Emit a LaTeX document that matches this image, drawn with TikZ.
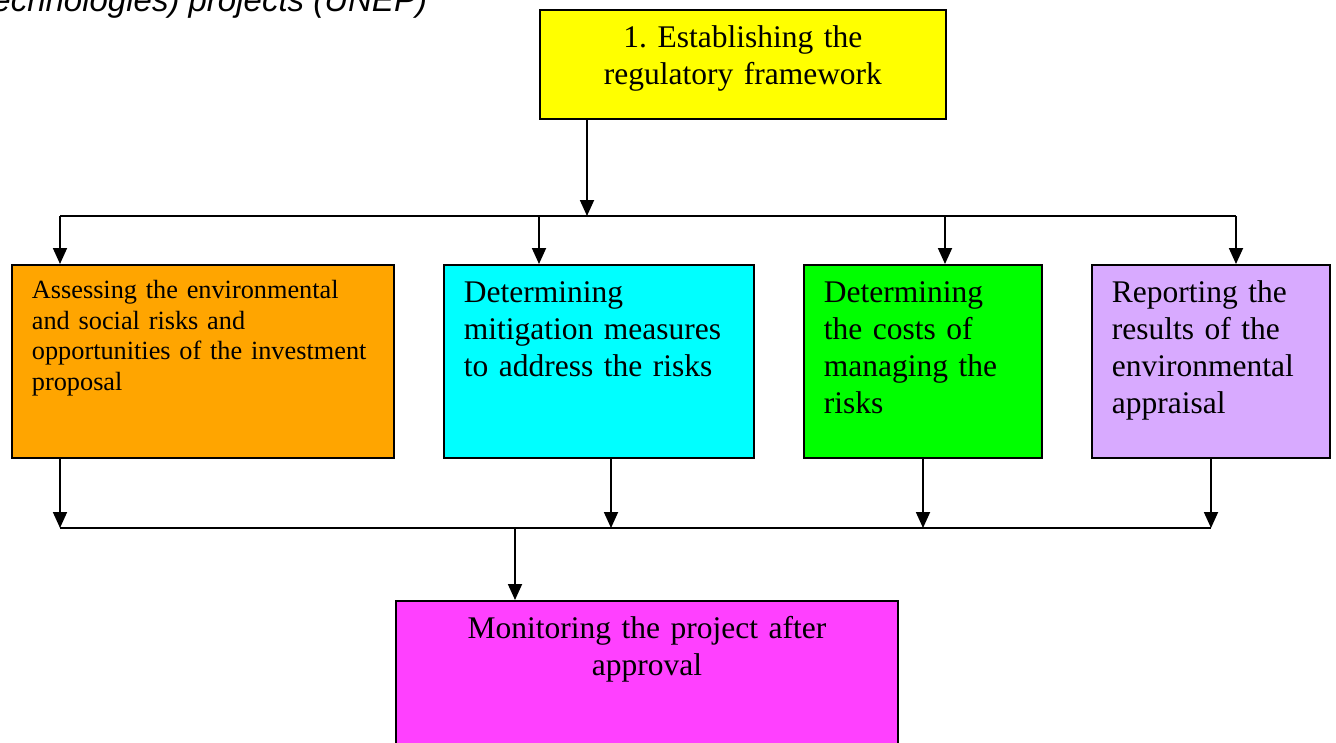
\documentclass[tikz,border=0pt]{standalone}
\usepackage{fontspec}
\setmainfont{Liberation Serif}
\newfontfamily\captionfont{Liberation Sans}
\usepackage{xcolor}
\usetikzlibrary{arrows.meta,positioning}
\definecolor{frameyellow}{RGB}{255,255,0}
\definecolor{assessorange}{RGB}{255,165,0}
\definecolor{mitigcyan}{RGB}{0,255,255}
\definecolor{costgreen}{RGB}{0,255,0}
\definecolor{reportlav}{RGB}{216,170,255}
\definecolor{monitmagenta}{RGB}{255,64,255}
\frenchspacing
\tikzset{
 stepbox/.style={draw, line width=1.8pt, anchor=north west, inner xsep=20pt, inner ysep=10pt,
  font=\fontsize{31.5}{37}\selectfont, text height=28pt},
 smallbox/.style={stepbox, font=\fontsize{26.3}{30.5}\selectfont, text height=24pt},
}
\begin{document}
\begin{tikzpicture}[x=1pt, y=-1pt, >={Triangle[length=16pt,width=14pt]}, line width=1.8pt]
 \useasboundingbox (0,0) rectangle (1336,742);
 % heading line cut by the page top
 \node[font=\captionfont\itshape\fontsize{33}{39}\selectfont, anchor=base east, inner sep=0pt] (source) at (428,11) {technologies) projects (UNEP)};
 % boxes at their places
 \node[stepbox, fill=frameyellow, text width=366pt, align=center, text depth=61pt] (frame) at (539,9) {1. Establishing the\\regulatory framework};
 \node[smallbox, fill=assessorange, text width=342pt, align=left, text depth=149pt] (assess) at (11,264) {Assessing the environmental\\and social risks and\\opportunities of the investment\\proposal};
 \node[stepbox, fill=mitigcyan, text width=270pt, align=left, text depth=145pt] (mitig) at (443,264) {Determining\\mitigation measures\\to address the risks};
 \node[stepbox, fill=costgreen, text width=198pt, align=left, text depth=145pt] (costs) at (803,264) {Determining\\the costs of\\managing the\\risks};
 \node[stepbox, fill=reportlav, text width=198pt, align=left, text depth=145pt] (report) at (1091,264) {Reporting the\\results of the\\environmental\\appraisal};
 \node[stepbox, fill=monitmagenta, text width=462pt, align=center, text depth=130pt] (monit) at (395,600) {Monitoring the project after\\approval};
 % upper bus
 \coordinate (topbus) at (587,216);
 \coordinate (topleft) at (60,216);
 \coordinate (topright) at (1236,216);
 \coordinate (tapb) at (539,216);
 \coordinate (tapc) at (945,216);
 \draw[->] (frame.south -| topbus) -- (topbus);
 \draw (topleft) -- (topright);
 \draw[->] (topleft) -- (assess.north -| topleft);
 \draw[->] (tapb) -- (mitig.north -| tapb);
 \draw[->] (tapc) -- (costs.north -| tapc);
 \draw[->] (topright) -- (report.north -| topright);
 % lower bus
 \coordinate (lowleft) at (60,528);
 \coordinate (lowright) at (1211,528);
 \coordinate (lowbus) at (515,528);
 \coordinate (lowb) at (611,528);
 \coordinate (lowc) at (923,528);
 \draw (lowleft) -- (lowright);
 \draw[->] (assess.south -| lowleft) -- (lowleft);
 \draw[->] (mitig.south -| lowb) -- (lowb);
 \draw[->] (costs.south -| lowc) -- (lowc);
 \draw[->] (report.south -| lowright) -- (lowright);
 \draw[->] (lowbus) -- (monit.north -| lowbus);
\end{tikzpicture}
\end{document}
